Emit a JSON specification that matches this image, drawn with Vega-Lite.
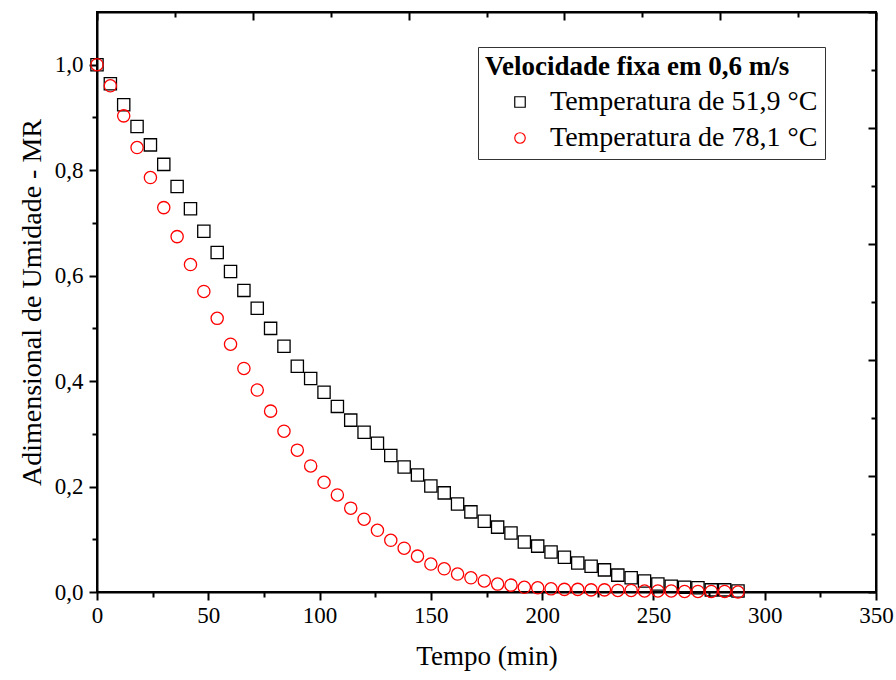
{
  "$schema": "https://vega.github.io/schema/vega-lite/v6.json",
  "width": 779,
  "height": 580,
  "autosize": {"type": "none"},
  "padding": {"left": 97, "top": 12, "right": 20, "bottom": 88},
  "background": "white",
  "config": {
    "view": {"stroke": "black", "strokeWidth": 2},
    "font": "Liberation Serif",
    "axis": {
      "domainColor": "black", "domainWidth": 2, "tickColor": "black", "tickWidth": 2,
      "grid": false, "labelFont": "Liberation Serif", "labelFontSize": 23, "labelColor": "black",
      "titleFont": "Liberation Serif", "titleFontSize": 27, "titleFontWeight": "normal", "titleColor": "black"
    },
    "legend": {
      "labelFont": "Liberation Serif", "titleFont": "Liberation Serif"
    }
  },
  "data": {"values": [
    {"t":0,"mr":1.0,"s":"Temperatura de 51,9 °C"},
    {"t":6,"mr":0.964,"s":"Temperatura de 51,9 °C"},
    {"t":12,"mr":0.924,"s":"Temperatura de 51,9 °C"},
    {"t":18,"mr":0.883,"s":"Temperatura de 51,9 °C"},
    {"t":24,"mr":0.848,"s":"Temperatura de 51,9 °C"},
    {"t":30,"mr":0.811,"s":"Temperatura de 51,9 °C"},
    {"t":36,"mr":0.769,"s":"Temperatura de 51,9 °C"},
    {"t":42,"mr":0.727,"s":"Temperatura de 51,9 °C"},
    {"t":48,"mr":0.684,"s":"Temperatura de 51,9 °C"},
    {"t":54,"mr":0.644,"s":"Temperatura de 51,9 °C"},
    {"t":60,"mr":0.608,"s":"Temperatura de 51,9 °C"},
    {"t":66,"mr":0.572,"s":"Temperatura de 51,9 °C"},
    {"t":72,"mr":0.538,"s":"Temperatura de 51,9 °C"},
    {"t":78,"mr":0.500,"s":"Temperatura de 51,9 °C"},
    {"t":84,"mr":0.466,"s":"Temperatura de 51,9 °C"},
    {"t":90,"mr":0.428,"s":"Temperatura de 51,9 °C"},
    {"t":96,"mr":0.405,"s":"Temperatura de 51,9 °C"},
    {"t":102,"mr":0.379,"s":"Temperatura de 51,9 °C"},
    {"t":108,"mr":0.352,"s":"Temperatura de 51,9 °C"},
    {"t":114,"mr":0.326,"s":"Temperatura de 51,9 °C"},
    {"t":120,"mr":0.303,"s":"Temperatura de 51,9 °C"},
    {"t":126,"mr":0.282,"s":"Temperatura de 51,9 °C"},
    {"t":132,"mr":0.259,"s":"Temperatura de 51,9 °C"},
    {"t":138,"mr":0.237,"s":"Temperatura de 51,9 °C"},
    {"t":144,"mr":0.222,"s":"Temperatura de 51,9 °C"},
    {"t":150,"mr":0.201,"s":"Temperatura de 51,9 °C"},
    {"t":156,"mr":0.188,"s":"Temperatura de 51,9 °C"},
    {"t":162,"mr":0.167,"s":"Temperatura de 51,9 °C"},
    {"t":168,"mr":0.152,"s":"Temperatura de 51,9 °C"},
    {"t":174,"mr":0.134,"s":"Temperatura de 51,9 °C"},
    {"t":180,"mr":0.123,"s":"Temperatura de 51,9 °C"},
    {"t":186,"mr":0.112,"s":"Temperatura de 51,9 °C"},
    {"t":192,"mr":0.095,"s":"Temperatura de 51,9 °C"},
    {"t":198,"mr":0.087,"s":"Temperatura de 51,9 °C"},
    {"t":204,"mr":0.076,"s":"Temperatura de 51,9 °C"},
    {"t":210,"mr":0.066,"s":"Temperatura de 51,9 °C"},
    {"t":216,"mr":0.055,"s":"Temperatura de 51,9 °C"},
    {"t":222,"mr":0.049,"s":"Temperatura de 51,9 °C"},
    {"t":228,"mr":0.042,"s":"Temperatura de 51,9 °C"},
    {"t":234,"mr":0.032,"s":"Temperatura de 51,9 °C"},
    {"t":240,"mr":0.027,"s":"Temperatura de 51,9 °C"},
    {"t":246,"mr":0.021,"s":"Temperatura de 51,9 °C"},
    {"t":252,"mr":0.015,"s":"Temperatura de 51,9 °C"},
    {"t":258,"mr":0.011,"s":"Temperatura de 51,9 °C"},
    {"t":264,"mr":0.009,"s":"Temperatura de 51,9 °C"},
    {"t":270,"mr":0.008,"s":"Temperatura de 51,9 °C"},
    {"t":276,"mr":0.004,"s":"Temperatura de 51,9 °C"},
    {"t":282,"mr":0.004,"s":"Temperatura de 51,9 °C"},
    {"t":288,"mr":0.002,"s":"Temperatura de 51,9 °C"},
    {"t":0,"mr":1.0,"s":"Temperatura de 78,1 °C"},
    {"t":6,"mr":0.960,"s":"Temperatura de 78,1 °C"},
    {"t":12,"mr":0.903,"s":"Temperatura de 78,1 °C"},
    {"t":18,"mr":0.843,"s":"Temperatura de 78,1 °C"},
    {"t":24,"mr":0.786,"s":"Temperatura de 78,1 °C"},
    {"t":30,"mr":0.729,"s":"Temperatura de 78,1 °C"},
    {"t":36,"mr":0.674,"s":"Temperatura de 78,1 °C"},
    {"t":42,"mr":0.621,"s":"Temperatura de 78,1 °C"},
    {"t":48,"mr":0.570,"s":"Temperatura de 78,1 °C"},
    {"t":54,"mr":0.519,"s":"Temperatura de 78,1 °C"},
    {"t":60,"mr":0.470,"s":"Temperatura de 78,1 °C"},
    {"t":66,"mr":0.424,"s":"Temperatura de 78,1 °C"},
    {"t":72,"mr":0.383,"s":"Temperatura de 78,1 °C"},
    {"t":78,"mr":0.343,"s":"Temperatura de 78,1 °C"},
    {"t":84,"mr":0.305,"s":"Temperatura de 78,1 °C"},
    {"t":90,"mr":0.269,"s":"Temperatura de 78,1 °C"},
    {"t":96,"mr":0.239,"s":"Temperatura de 78,1 °C"},
    {"t":102,"mr":0.208,"s":"Temperatura de 78,1 °C"},
    {"t":108,"mr":0.184,"s":"Temperatura de 78,1 °C"},
    {"t":114,"mr":0.159,"s":"Temperatura de 78,1 °C"},
    {"t":120,"mr":0.138,"s":"Temperatura de 78,1 °C"},
    {"t":126,"mr":0.117,"s":"Temperatura de 78,1 °C"},
    {"t":132,"mr":0.098,"s":"Temperatura de 78,1 °C"},
    {"t":138,"mr":0.083,"s":"Temperatura de 78,1 °C"},
    {"t":144,"mr":0.068,"s":"Temperatura de 78,1 °C"},
    {"t":150,"mr":0.053,"s":"Temperatura de 78,1 °C"},
    {"t":156,"mr":0.044,"s":"Temperatura de 78,1 °C"},
    {"t":162,"mr":0.034,"s":"Temperatura de 78,1 °C"},
    {"t":168,"mr":0.027,"s":"Temperatura de 78,1 °C"},
    {"t":174,"mr":0.021,"s":"Temperatura de 78,1 °C"},
    {"t":180,"mr":0.015,"s":"Temperatura de 78,1 °C"},
    {"t":186,"mr":0.013,"s":"Temperatura de 78,1 °C"},
    {"t":192,"mr":0.009,"s":"Temperatura de 78,1 °C"},
    {"t":198,"mr":0.008,"s":"Temperatura de 78,1 °C"},
    {"t":204,"mr":0.006,"s":"Temperatura de 78,1 °C"},
    {"t":210,"mr":0.005,"s":"Temperatura de 78,1 °C"},
    {"t":216,"mr":0.005,"s":"Temperatura de 78,1 °C"},
    {"t":222,"mr":0.004,"s":"Temperatura de 78,1 °C"},
    {"t":228,"mr":0.004,"s":"Temperatura de 78,1 °C"},
    {"t":234,"mr":0.003,"s":"Temperatura de 78,1 °C"},
    {"t":240,"mr":0.003,"s":"Temperatura de 78,1 °C"},
    {"t":246,"mr":0.002,"s":"Temperatura de 78,1 °C"},
    {"t":252,"mr":0.002,"s":"Temperatura de 78,1 °C"},
    {"t":258,"mr":0.002,"s":"Temperatura de 78,1 °C"},
    {"t":264,"mr":0.001,"s":"Temperatura de 78,1 °C"},
    {"t":270,"mr":0.001,"s":"Temperatura de 78,1 °C"},
    {"t":276,"mr":0.001,"s":"Temperatura de 78,1 °C"},
    {"t":282,"mr":0.001,"s":"Temperatura de 78,1 °C"},
    {"t":288,"mr":0.0,"s":"Temperatura de 78,1 °C"}
  ]},
  "resolve": {"axis": {"x": "independent", "y": "independent"}},
  "layer": [
    {
      "mark": {"type": "point", "filled": false, "strokeWidth": 1.3, "opacity": 1},
      "encoding": {
        "x": {"field": "t", "type": "quantitative",
          "scale": {"domain": [0, 350], "nice": false, "zero": false},
          "axis": {"orient": "bottom", "title": "Tempo (min)", "values": [0,25,50,75,100,125,150,175,200,225,250,275,300,325,350],
            "labelExpr": "datum.value % 50 === 0 ? datum.label : ''",
            "tickSize": {"condition": {"test": "datum.value % 50 === 0", "value": 8}, "value": 5},
            "labelPadding": 4, "titlePadding": 16, "labelFlush": false}},
        "y": {"field": "mr", "type": "quantitative",
          "scale": {"domain": [0, 1.1], "nice": false, "zero": false},
          "axis": {"orient": "left", "title": "Adimensional de Umidade - MR",
            "values": [0,0.1,0.2,0.3,0.4,0.5,0.6,0.7,0.8,0.9,1.0],
            "labelExpr": "round(datum.value*10) % 2 === 0 ? replace(format(datum.value, '.1f'), '.', ',') : ''",
            "tickSize": {"condition": {"test": "round(datum.value*10) % 2 === 0", "value": 8}, "value": 5},
            "labelPadding": 6, "titlePadding": 8, "titleFontSize": 28, "labelFlush": false}},
        "shape": {"field": "s", "type": "nominal",
          "scale": {"domain": ["Temperatura de 51,9 °C", "Temperatura de 78,1 °C"], "range": ["square", "circle"]},
          "legend": {"title": "Velocidade fixa em 0,6 m/s", "orient": "none", "legendX": 381, "legendY": 35,
            "direction": "vertical", "strokeColor": "#333333", "padding": 7, "fillColor": "white",
            "titleFontSize": 27, "titleFontWeight": "bold", "titleColor": "black", "titlePadding": 7, "titleLimit": 600,
            "labelFontSize": 28, "labelColor": "black", "labelOffset": 16, "symbolOffset": 21,
            "symbolSize": 110, "symbolStrokeWidth": 1.2, "rowPadding": 8, "labelLimit": 600}},
        "color": {"field": "s", "type": "nominal",
          "scale": {"domain": ["Temperatura de 51,9 °C", "Temperatura de 78,1 °C"], "range": ["#000000", "#ff0000"]},
          "legend": {"title": "Velocidade fixa em 0,6 m/s", "orient": "none", "legendX": 381, "legendY": 35,
            "direction": "vertical", "strokeColor": "#333333", "padding": 7, "fillColor": "white",
            "titleFontSize": 27, "titleFontWeight": "bold", "titleColor": "black", "titlePadding": 7, "titleLimit": 600,
            "labelFontSize": 28, "labelColor": "black", "labelOffset": 16, "symbolOffset": 21,
            "symbolSize": 110, "symbolStrokeWidth": 1.2, "rowPadding": 8, "labelLimit": 600}},
        "size": {"value": 150}
      }
    },
    {
      "mark": {"type": "point", "opacity": 0},
      "encoding": {
        "x": {"field": "t", "type": "quantitative",
          "axis": {"orient": "top", "title": null, "labels": false,
            "values": [0,35,70,105,140,175,210,245,280,315,350],
            "tickSize": {"condition": {"test": "round(datum.value/35) % 2 === 0", "value": -8}, "value": -5}}},
        "y": {"field": "mr", "type": "quantitative",
          "axis": {"orient": "right", "title": null, "labels": false,
            "values": [0,0.11,0.22,0.33,0.44,0.55,0.66,0.77,0.88,0.99,1.1],
            "tickSize": {"condition": {"test": "round(datum.value/0.11) % 2 === 0", "value": -8}, "value": -5}}}
      }
    }
  ]
}
